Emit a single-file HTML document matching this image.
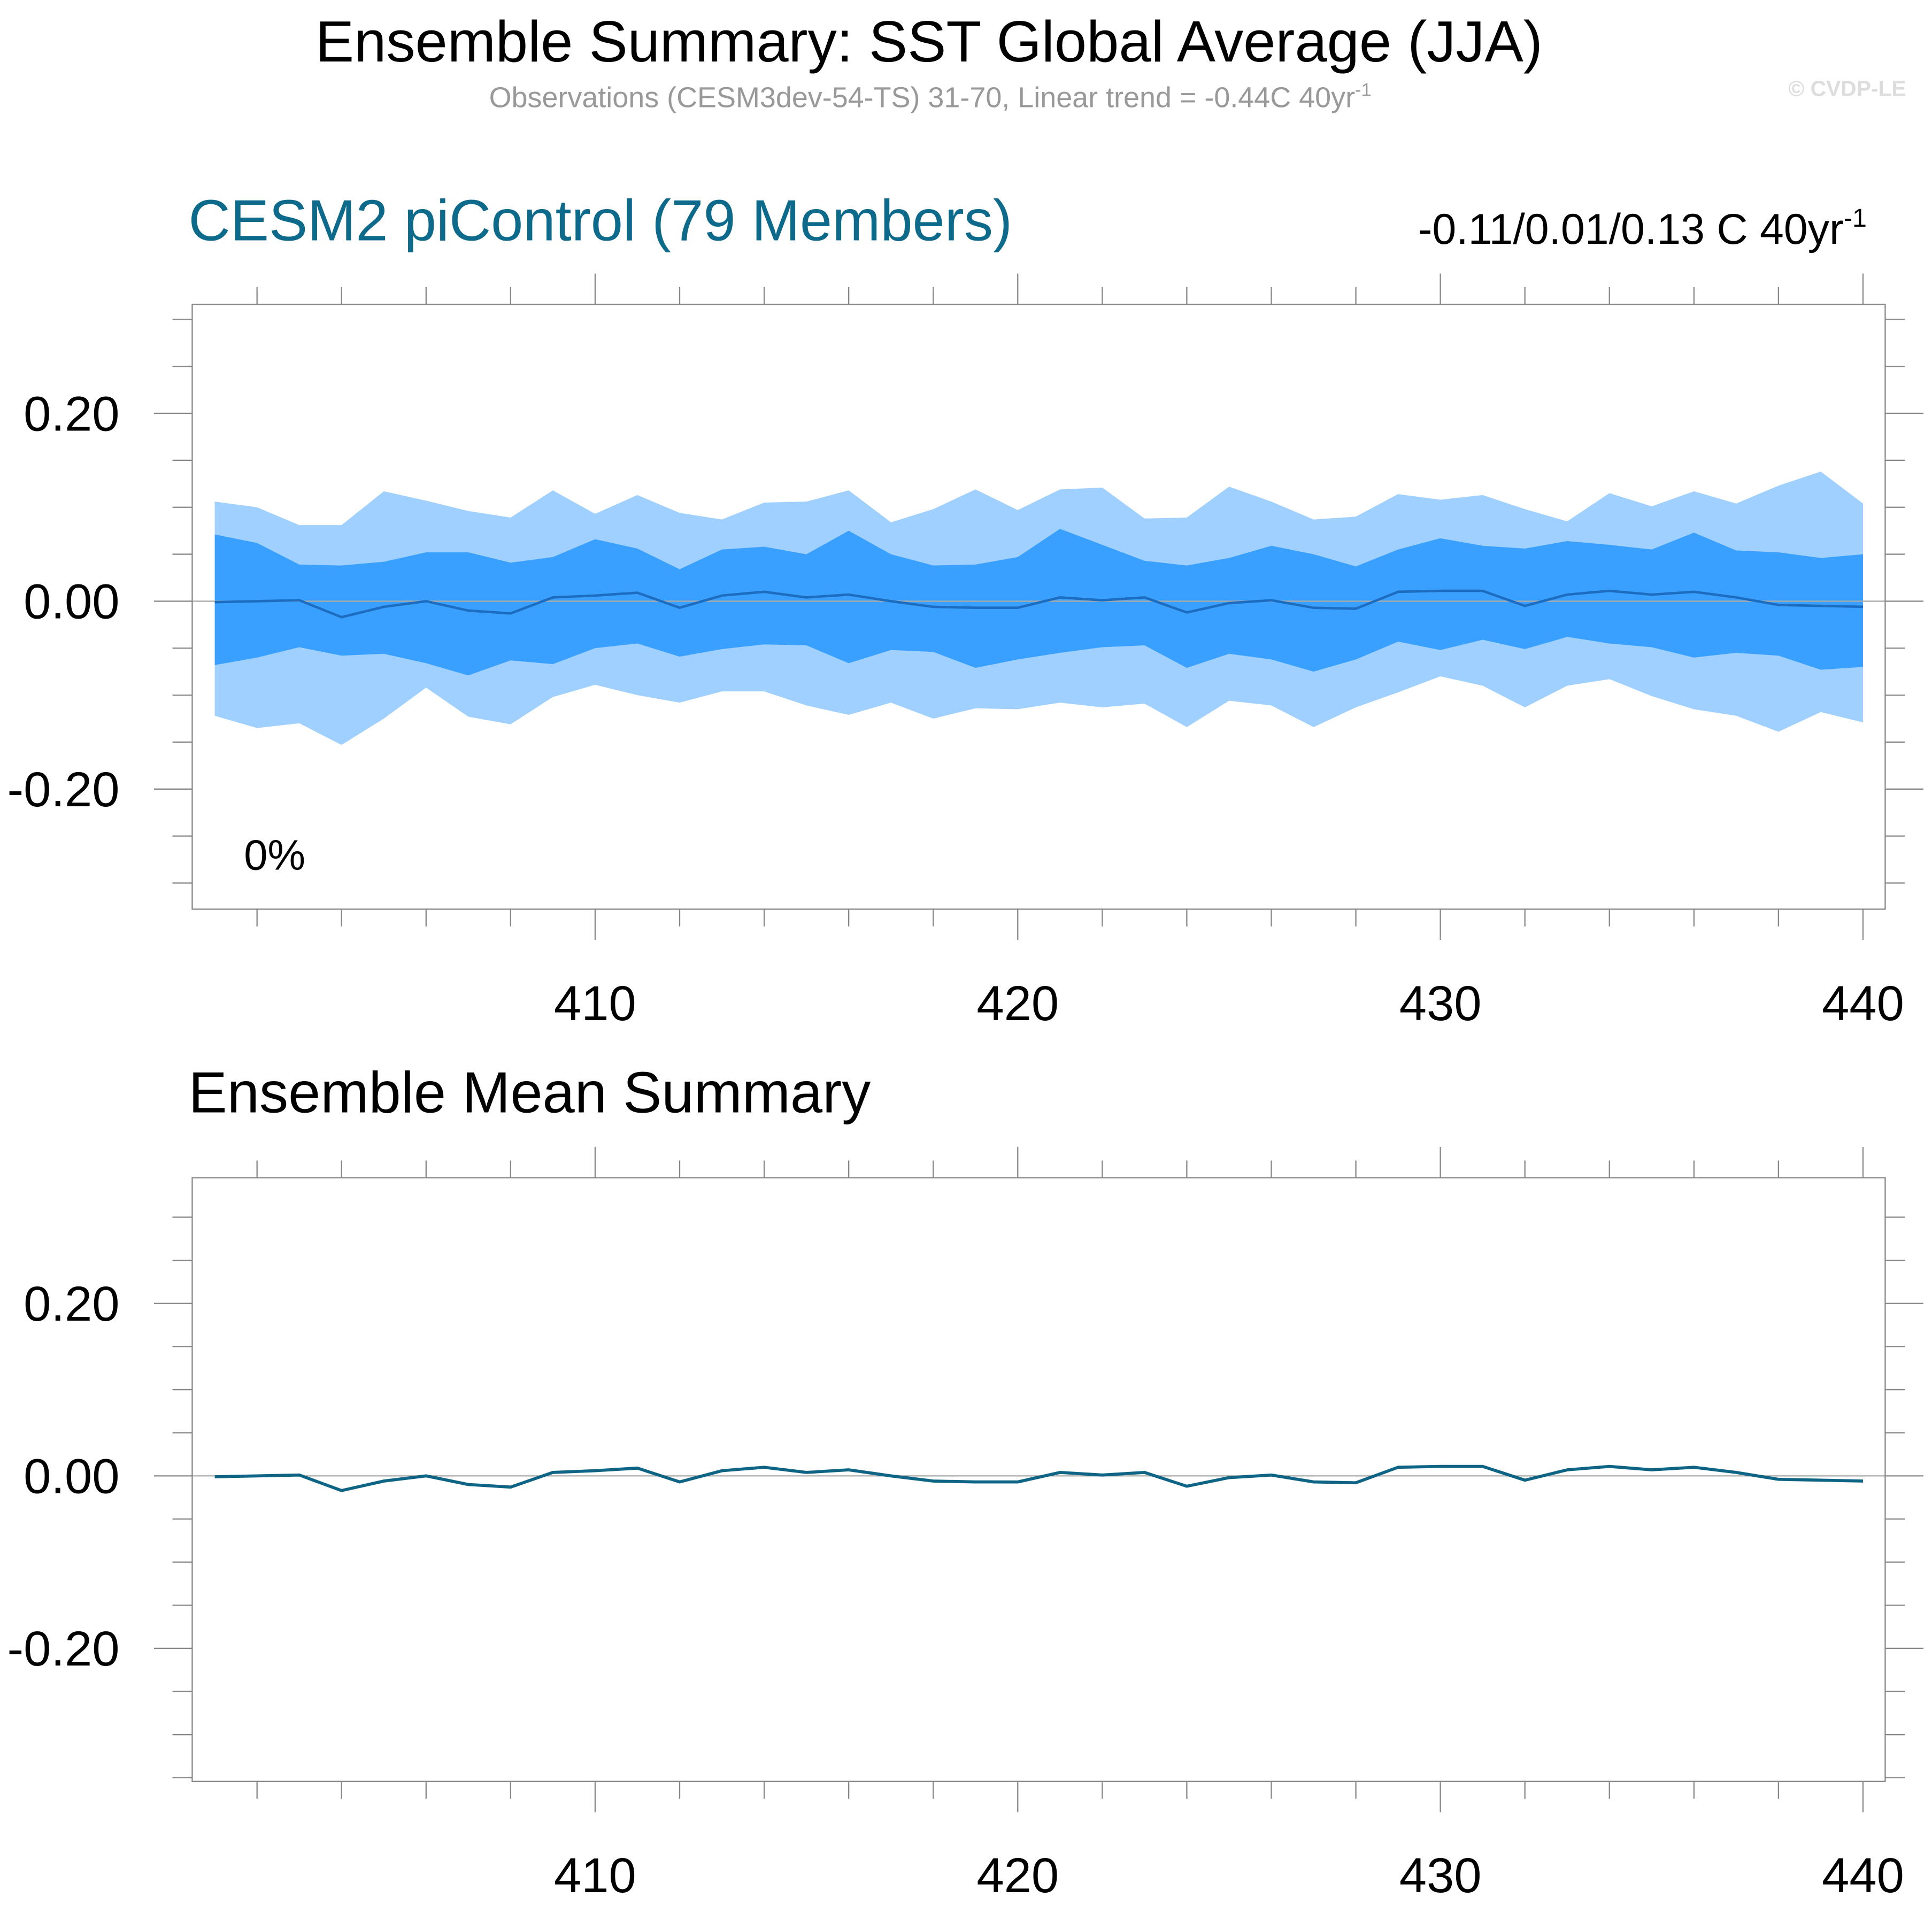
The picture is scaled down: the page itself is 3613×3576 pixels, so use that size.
<!DOCTYPE html>
<html><head><meta charset="utf-8"><style>
html,body{margin:0;padding:0;background:#fff;}
svg{display:block;font-family:"Liberation Sans",sans-serif;}
</style></head><body>
<svg id="chart" width="3613" height="3576" viewBox="0 0 1568 1552" preserveAspectRatio="none" xmlns="http://www.w3.org/2000/svg">
<text x="754" y="50" font-size="47" text-anchor="middle" fill="#000">Ensemble Summary: SST Global Average (JJA)</text>
<text x="755" y="87" font-size="23.4" text-anchor="middle" fill="#999">Observations (CESM3dev-54-TS) 31-70, Linear trend = -0.44C 40yr<tspan dy="-9" font-size="15">-1</tspan></text>
<text x="1547" y="78" font-size="17.7" text-anchor="end" fill="#ddd" font-weight="bold">© CVDP-LE</text>
<text x="153" y="195" font-size="47" fill="#0e6a8a">CESM2 piControl (79 Members)</text>
<text x="1515" y="198" font-size="35" text-anchor="end" fill="#000">-0.11/0.01/0.13 C 40yr<tspan dy="-14" font-size="21">-1</tspan></text>
<text x="153" y="903" font-size="47" fill="#000">Ensemble Mean Summary</text>
<g id="top"></g>
<g id="bot"></g>
</svg>
<script>
const years = Array.from({length:40},(_,i)=>401+i);
const outerUpper=[0.106,0.1,0.081,0.081,0.117,0.107,0.096,0.089,0.118,0.093,0.113,0.094,0.087,0.105,0.106,0.118,0.084,0.098,0.119,0.097,0.119,0.121,0.088,0.089,0.122,0.106,0.087,0.09,0.114,0.108,0.113,0.098,0.085,0.115,0.101,0.117,0.104,0.123,0.138,0.104];
const innerUpper=[0.071,0.062,0.039,0.038,0.042,0.052,0.052,0.041,0.047,0.066,0.056,0.034,0.055,0.058,0.05,0.075,0.05,0.038,0.039,0.047,0.077,0.06,0.043,0.038,0.046,0.059,0.05,0.037,0.055,0.067,0.059,0.056,0.064,0.06,0.055,0.073,0.054,0.052,0.046,0.05];
const innerLower=[-0.068,-0.06,-0.049,-0.058,-0.056,-0.066,-0.079,-0.063,-0.067,-0.05,-0.045,-0.059,-0.051,-0.046,-0.047,-0.066,-0.052,-0.054,-0.071,-0.062,-0.055,-0.049,-0.047,-0.071,-0.056,-0.062,-0.075,-0.062,-0.043,-0.052,-0.041,-0.051,-0.038,-0.045,-0.049,-0.06,-0.055,-0.058,-0.073,-0.07];
const outerLower=[-0.122,-0.135,-0.13,-0.153,-0.125,-0.092,-0.123,-0.131,-0.102,-0.089,-0.1,-0.108,-0.096,-0.096,-0.111,-0.121,-0.108,-0.125,-0.114,-0.115,-0.108,-0.113,-0.109,-0.134,-0.106,-0.111,-0.134,-0.113,-0.097,-0.08,-0.09,-0.113,-0.09,-0.083,-0.101,-0.115,-0.122,-0.139,-0.118,-0.129];
const ensMean=[-0.001,0.0,0.001,-0.017,-0.006,0,-0.01,-0.013,0.004,0.006,0.009,-0.007,0.006,0.01,0.004,0.007,0,-0.006,-0.007,-0.007,0.004,0.001,0.004,-0.012,-0.002,0.001,-0.007,-0.008,0.01,0.011,0.011,-0.005,0.007,0.011,0.007,0.01,0.004,-0.004,-0.005,-0.006];
const yTicks=[0.2,0,-0.2];
const yTickLabels=["0.20","0.00","-0.20"];
const xTicks=[410,420,430,440];
const NS="http://www.w3.org/2000/svg";
function mk(parent,tag,attrs){const e=document.createElementNS(NS,tag);for(const k in attrs)e.setAttribute(k,attrs[k]);parent.appendChild(e);return e;}
const X=v=>483+(v-410)*34.3;
function panel(g,top,bottom,zeroY,unit,bands){
  const Y=v=>zeroY-v*unit*10;
  const L=156,R=1530;
  if(bands){
    const poly=(up,lo,col,name)=>{let d="M"+years.map((y,i)=>X(y)+","+Y(up[i])).join("L");d+="L"+years.slice().reverse().map((y,j)=>{const i=years.length-1-j;return X(y)+","+Y(lo[i]);}).join("L")+"Z";
      const p=mk(g,"path",{d:d,fill:col});
      
      };
    poly(outerUpper,outerLower,"#9fd0ff","outer-spread-band");
    poly(innerUpper,innerLower,"#3aa0ff","inner-spread-band");
  }
  const z=mk(g,"line",{x1:L,x2:R,y1:Y(0),y2:Y(0),stroke:"#aaa","stroke-width":1});
  
  
  const ln=mk(g,"path",{d:"M"+years.map((y,i)=>X(y)+","+Y(ensMean[i])).join("L"),fill:"none",stroke:bands?"#1c6cc0":"#0e6484","stroke-width":bands?2:2.5});
  
  
  const box=mk(g,"rect",{x:L,y:top,width:R-L,height:bottom-top,fill:"none",stroke:"#888","stroke-width":1});
  
  
  for(let k=-7;k<=7;k++){const v=k*0.05;const yy=Y(v);if(yy<top-1||yy>bottom+1)continue;const major=(k%4===0);
    const len=major?31:16;
    mk(g,"line",{x1:L-len,x2:L,y1:yy,y2:yy,stroke:"#888","stroke-width":1});
    mk(g,"line",{x1:R,x2:R+len,y1:yy,y2:yy,stroke:"#888","stroke-width":1});}
  yTicks.forEach((v,i)=>{const t=mk(g,"text",{x:97,y:Y(v)+14,"font-size":40,"text-anchor":"end",fill:"#000"});t.textContent=yTickLabels[i];
    
    });
  for(let yr=402;yr<=440;yr+=2){const xx=X(yr);const major=yr%10===0;const len=major?25:14;
    mk(g,"line",{x1:xx,x2:xx,y1:top-len,y2:top,stroke:"#888","stroke-width":1});
    mk(g,"line",{x1:xx,x2:xx,y1:bottom,y2:bottom+len,stroke:"#888","stroke-width":1});}
  xTicks.forEach(v=>{const t=mk(g,"text",{x:X(v),y:bottom+90,"font-size":40,"text-anchor":"middle",fill:"#000"});t.textContent=v;
    
    });
}
panel(document.getElementById("top"),247,738,488,76.25,true);
panel(document.getElementById("bot"),956,1446,1198,70,false);
const pc=mk(document.getElementById("top"),"text",{x:198,y:706,"font-size":34.5,fill:"#000"});
pc.textContent="0%";


</script>
</body></html>
